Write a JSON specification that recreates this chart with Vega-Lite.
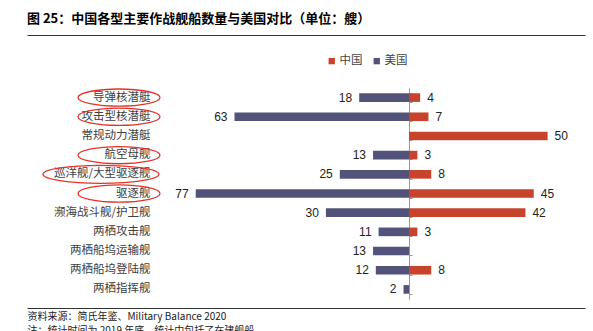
{
  "$schema": "https://vega.github.io/schema/vega-lite/v6.json",
  "autosize": "none",
  "width": 558,
  "height": 273,
  "padding": {"left": 27, "top": 35, "right": 8, "bottom": 23},
  "background": "white",
  "config": {"view": {"stroke": null}},
  "title": {
    "text": "图 25：中国各型主要作战舰船数量与美国对比（单位：艘）",
    "anchor": "start",
    "frame": "group",
    "font": "Noto Sans CJK SC",
    "fontSize": 13,
    "fontWeight": "bold",
    "color": "#000000",
    "offset": 9
  },
  "datasets": {
    "ships": [
      {"category": "导弹核潜艇", "country": "中国", "value": 4},
      {"category": "导弹核潜艇", "country": "美国", "value": 18},
      {"category": "攻击型核潜艇", "country": "中国", "value": 7},
      {"category": "攻击型核潜艇", "country": "美国", "value": 63},
      {"category": "常规动力潜艇", "country": "中国", "value": 50},
      {"category": "航空母舰", "country": "中国", "value": 3},
      {"category": "航空母舰", "country": "美国", "value": 13},
      {"category": "巡洋舰/大型驱逐舰", "country": "中国", "value": 8},
      {"category": "巡洋舰/大型驱逐舰", "country": "美国", "value": 25},
      {"category": "驱逐舰", "country": "中国", "value": 45},
      {"category": "驱逐舰", "country": "美国", "value": 77},
      {"category": "濒海战斗舰/护卫舰", "country": "中国", "value": 42},
      {"category": "濒海战斗舰/护卫舰", "country": "美国", "value": 30},
      {"category": "两栖攻击舰", "country": "中国", "value": 3},
      {"category": "两栖攻击舰", "country": "美国", "value": 11},
      {"category": "两栖船坞运输舰", "country": "美国", "value": 13},
      {"category": "两栖船坞登陆舰", "country": "中国", "value": 8},
      {"category": "两栖船坞登陆舰", "country": "美国", "value": 12},
      {"category": "两栖指挥舰", "country": "美国", "value": 2}
    ],
    "circled": [
      {"category": "导弹核潜艇"},
      {"category": "攻击型核潜艇"},
      {"category": "航空母舰"},
      {"category": "巡洋舰/大型驱逐舰"},
      {"category": "驱逐舰"}
    ]
  },
  "resolve": {"axis": {"x": "independent", "y": "independent"}},
  "layer": [
    {
      "data": {"name": "ships"},
      "transform": [{"calculate": "datum.country === '美国' ? -datum.value : datum.value", "as": "signed"}],
      "mark": {"type": "bar"},
      "encoding": {
        "y": {
          "field": "category",
          "type": "nominal",
          "scale": {
            "domain": ["导弹核潜艇", "攻击型核潜艇", "常规动力潜艇", "航空母舰", "巡洋舰/大型驱逐舰", "驱逐舰", "濒海战斗舰/护卫舰", "两栖攻击舰", "两栖船坞运输舰", "两栖船坞登陆舰", "两栖指挥舰"],
            "range": [53, 264],
            "paddingInner": 0.55,
            "paddingOuter": 0.275
          },
          "axis": {
            "orient": "left",
            "offset": -123,
            "domain": false,
            "ticks": false,
            "grid": false,
            "title": null,
            "labelPadding": 0,
            "labelFont": "Noto Sans CJK SC",
            "labelFontSize": 11.5,
            "labelColor": "#404040",
            "labelAlign": "right",
            "labelBaseline": "middle"
          }
        },
        "x": {
          "field": "signed",
          "type": "quantitative",
          "scale": {"domain": [-137.9, 63.5], "nice": false, "zero": false},
          "axis": {
            "orient": "top",
            "domain": true,
            "domainColor": "#333333",
            "domainWidth": 1,
            "ticks": false,
            "labels": false,
            "grid": false,
            "title": null
          }
        },
        "color": {
          "field": "country",
          "type": "nominal",
          "scale": {"domain": ["中国", "美国"], "range": ["#c8432b", "#535279"]},
          "legend": {
            "orient": "none",
            "legendX": 299,
            "legendY": 20,
            "direction": "horizontal",
            "title": null,
            "symbolType": "square",
            "symbolSize": 40,
            "symbolStrokeWidth": 0,
            "labelFont": "Noto Sans CJK SC",
            "labelFontSize": 11.5,
            "labelColor": "#444444",
            "labelOffset": 2,
            "columnPadding": 8,
            "padding": 0
          }
        }
      }
    },
    {
      "data": {"name": "ships"},
      "transform": [
        {"filter": "datum.country === '美国'"},
        {"calculate": "-datum.value", "as": "signed"}
      ],
      "mark": {"type": "text", "align": "right", "baseline": "middle", "dx": -7, "font": "Liberation Sans", "fontSize": 12, "color": "#222222"},
      "encoding": {
        "y": {"field": "category", "type": "nominal", "axis": null},
        "x": {
          "field": "signed",
          "type": "quantitative",
          "axis": {
            "orient": "bottom",
            "domain": true,
            "domainColor": "#333333",
            "domainWidth": 1,
            "ticks": false,
            "labels": false,
            "grid": false,
            "title": ["资料来源：简氏年鉴、Military Balance 2020", "注：统计时间为 2019 年底，统计中包括了在建舰船"],
            "titleAnchor": "start",
            "titleAlign": "left",
            "titleBaseline": "top",
            "titlePadding": 3,
            "titleFont": "Noto Sans CJK SC",
            "titleFontSize": 10,
            "titleFontWeight": "normal",
            "titleColor": "#222222",
            "titleLineHeight": 14
          }
        },
        "text": {"field": "value", "type": "quantitative"}
      }
    },
    {
      "data": {"name": "ships"},
      "transform": [{"filter": "datum.country === '中国'"}],
      "mark": {"type": "text", "align": "left", "baseline": "middle", "dx": 7, "font": "Liberation Sans", "fontSize": 12, "color": "#222222"},
      "encoding": {
        "y": {
          "field": "category",
          "type": "nominal",
          "axis": {
            "orient": "right",
            "offset": -176,
            "domain": true,
            "domainColor": "#999999",
            "domainWidth": 1,
            "ticks": true,
            "tickBand": "extent",
            "tickSize": 3,
            "tickColor": "#999999",
            "labels": false,
            "grid": false,
            "title": null
          }
        },
        "x": {"field": "value", "type": "quantitative", "axis": null},
        "text": {"field": "value", "type": "quantitative"}
      }
    },
    {
      "data": {"name": "circled"},
      "transform": [{"filter": "datum.category !== '巡洋舰/大型驱逐舰'"}],
      "mark": {
        "type": "point",
        "shape": "M-1,0 A1,0.21 0 1,1 1,0 A1,0.21 0 1,1 -1,0 Z",
        "size": 6724,
        "filled": false,
        "stroke": "#e4322a",
        "strokeWidth": 1.3,
        "opacity": 1
      },
      "encoding": {
        "y": {"field": "category", "type": "nominal", "axis": null},
        "x": {"datum": -104.7, "type": "quantitative", "axis": null}
      }
    },
    {
      "data": {"name": "circled"},
      "transform": [{"filter": "datum.category === '巡洋舰/大型驱逐舰'"}],
      "mark": {
        "type": "point",
        "shape": "M-1,0 A1,0.155 0 1,1 1,0 A1,0.155 0 1,1 -1,0 Z",
        "size": 13456,
        "filled": false,
        "stroke": "#e4322a",
        "strokeWidth": 1.3,
        "opacity": 1
      },
      "encoding": {
        "y": {"field": "category", "type": "nominal", "axis": null},
        "x": {"datum": -111.2, "type": "quantitative", "axis": null}
      }
    }
  ]
}
